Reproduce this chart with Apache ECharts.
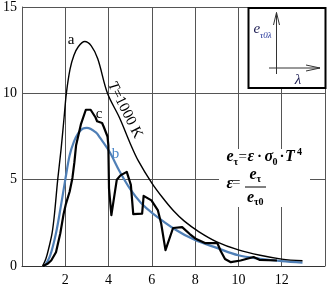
<!DOCTYPE html>
<html>
<head>
<meta charset="utf-8">
<script src="https://cdn.jsdelivr.net/npm/echarts@6/dist/echarts.min.js"></script>
<style>html,body{margin:0;padding:0;background:#fff}#c{width:328px;height:287px}</style>
</head>
<body>
<div id="c"></div>
<script>
// tick labels
const xTicks = [2, 4, 6, 8, 10, 12];
const yTicks = [0, 5, 10, 15];
// curve a: black body, T = 1000 K
const curveA = [[0.95,0],[1.1,0.4],[1.25,1.1],[1.39,1.9],[1.5,3.0],[1.65,5.0],[1.8,6.7],[1.93,8.4],[2.05,10.0],[2.22,11.4],[2.4,12.2],[2.6,12.7],[2.9,13.0],[3.2,12.75],[3.5,12.0],[3.95,10.0],[4.5,8.6],[5.0,7.1],[5.37,6.1],[6.0,4.8],[6.5,3.95],[7.0,3.2],[7.5,2.6],[8.18,1.98],[9.0,1.4],[10.0,0.93],[11.0,0.62],[12.0,0.4],[12.96,0.3]];
// curve b: gray body
const curveB = [[1.05,0],[1.3,0.6],[1.57,1.9],[1.8,3.5],[2.0,5.0],[2.2,6.4],[2.4,7.2],[2.6,7.7],[2.8,7.95],[3.0,8.0],[3.4,7.75],[3.62,7.4],[4.05,6.6],[4.5,5.5],[5.0,4.45],[5.5,3.65],[6.05,3.04],[7.1,2.1],[8.0,1.5],[9.0,1.05],[10.0,0.62],[11.0,0.42],[12.0,0.28],[12.96,0.2]];
// curve c: selective emitter
const curveC = [[0.97,0],[1.2,0.15],[1.35,0.32],[1.57,0.8],[1.77,1.9],[1.92,3.0],[2.03,3.6],[2.2,4.3],[2.33,5.1],[2.42,6.0],[2.5,7.0],[2.72,8.2],[2.95,9.05],[3.17,9.05],[3.4,8.6],[3.47,8.38],[3.7,8.28],[3.78,8.05],[3.95,7.5],[3.99,7.0],[4.02,4.5],[4.13,2.95],[4.38,5.0],[4.55,5.25],[4.84,5.45],[5.03,4.7],[5.14,3.0],[5.55,3.03],[5.62,4.06],[5.98,3.8],[6.28,3.22],[6.43,2.46],[6.63,0.92],[6.98,2.2],[7.4,2.25],[7.75,1.85],[8.05,1.56],[8.48,1.32],[9.03,1.32],[9.18,0.87],[9.38,0.4],[9.65,0.22],[10.1,0.32],[10.7,0.52],[10.97,0.36],[11.78,0.32]];

const serif = '"Liberation Serif", "Times New Roman", serif';
const chart = echarts.init(document.getElementById('c'), null, {renderer: 'canvas'});

function txt(text, x, y, size, opts) {
  opts = opts || {};
  return {
    type: 'text', x: x, y: y, z: 101,
    style: {
      text: text, fontFamily: serif, fontSize: size,
      fontStyle: opts.italic ? 'italic' : 'normal',
      fontWeight: opts.bold ? 'bold' : 'normal',
      fill: opts.color || '#000',
      align: opts.align || 'left', verticalAlign: 'middle'
    },
    rotation: opts.rotation || 0
  };
}
function seg(x1, y1, x2, y2, w, c) {
  return {type: 'line', z: 101, shape: {x1: x1, y1: y1, x2: x2, y2: y2}, style: {stroke: c || '#000', lineWidth: w || 1}};
}

const graphics = [
  // formula background
  {type: 'rect', z: 100, shape: {x: 219, y: 149, width: 91, height: 58}, style: {fill: '#fff'}},
  // inset box
  {type: 'rect', z: 100, shape: {x: 248.5, y: 8, width: 77, height: 80}, style: {fill: '#fff', stroke: '#000', lineWidth: 2}},
  seg(276.5, 74, 276.5, 12.5, 1, '#333'),
  seg(276.5, 12.5, 273.5, 25, 1, '#333'),
  seg(276.5, 12.5, 279.5, 25, 1, '#333'),
  seg(269, 68, 320, 68, 1, '#333'),
  seg(320, 68, 306, 65, 1, '#333'),
  seg(320, 68, 306, 71, 1, '#333'),
  txt('e', 253.5, 29, 15, {italic: true, color: '#1a1a50'}),
  txt('τ0λ', 260, 36, 9, {italic: true, color: '#23349a'}),
  txt('λ', 298, 80, 15, {italic: true, color: '#1a1a50', align: 'center'}),
  // curve labels
  txt('a', 71, 40, 15, {align: 'center'}),
  txt('c', 99, 114, 15, {align: 'center'}),
  txt('b', 115.5, 154, 15, {align: 'center', color: '#4a86c8'}),
  {type: 'text', x: 125, y: 110, z: 101, rotation: -1.107,
   style: {text: '{i|T}=1000 K', fontFamily: serif, fontSize: 15, fill: '#000', align: 'center', verticalAlign: 'middle',
           rich: {i: {fontStyle: 'italic', fontFamily: serif, fontSize: 15}}}},
  // formula line 1
  txt('e', 226.5, 157, 16, {italic: true, bold: true}),
  txt('τ', 233.5, 162, 10, {bold: true}),
  txt('=', 238.5, 157, 15),
  txt('ε', 247.5, 157, 16, {italic: true, bold: true}),
  txt('·', 257, 157, 15, {bold: true}),
  txt('σ', 264.5, 157, 16, {italic: true, bold: true}),
  txt('0', 272.5, 162.5, 10, {bold: true}),
  txt('·', 279.5, 157, 15, {bold: true}),
  txt('T', 285, 157, 16, {italic: true, bold: true}),
  txt('4', 297, 152.5, 10, {bold: true}),
  // formula line 2
  txt('ε', 226.5, 183.5, 16, {italic: true, bold: true}),
  txt('=', 232, 183.5, 15),
  seg(245, 187, 266, 187, 1, '#000'),
  txt('e', 249.5, 175, 16, {italic: true, bold: true}),
  txt('τ', 256.5, 179.5, 10, {bold: true}),
  txt('e', 247, 198, 16, {italic: true, bold: true}),
  txt('τ0', 254, 202.5, 10, {bold: true})
];

chart.setOption({
  animation: false,
  backgroundColor: '#fff',
  grid: {left: 20, right: 1, top: 4, bottom: 21, containLabel: false},
  xAxis: {
    type: 'value', min: 0, max: 14, interval: 2,
    axisLine: {show: true, onZero: false, lineStyle: {color: '#333', width: 1}},
    axisTick: {show: false},
    splitLine: {show: true, lineStyle: {color: '#555', width: 1}},
    axisLabel: {
      margin: 7, fontFamily: serif, fontSize: 14, color: '#000',
      formatter: function (v) { return xTicks.indexOf(v) >= 0 ? String(v) : ''; }
    }
  },
  yAxis: {
    type: 'value', min: 0, max: 15, interval: 5,
    axisLine: {show: true, lineStyle: {color: '#555', width: 1}},
    axisTick: {show: false},
    splitLine: {show: true, lineStyle: {color: '#555', width: 1}},
    axisLabel: {
      margin: 5, fontFamily: serif, fontSize: 14, color: '#000',
      formatter: function (v) { return yTicks.indexOf(v) >= 0 ? String(v) : ''; }
    }
  },
  series: [
    {type: 'line', data: curveA, smooth: 0.35, showSymbol: false, lineStyle: {color: '#000', width: 1.4}, z: 3},
    {type: 'line', data: curveB, smooth: 0.35, showSymbol: false, lineStyle: {color: '#4f7fb6', width: 2.2}, z: 2},
    {type: 'line', data: curveC, smooth: false, showSymbol: false, lineStyle: {color: '#000', width: 2.2, join: 'round'}, z: 4}
  ],
  graphic: graphics
});
</script>
</body>
</html>
